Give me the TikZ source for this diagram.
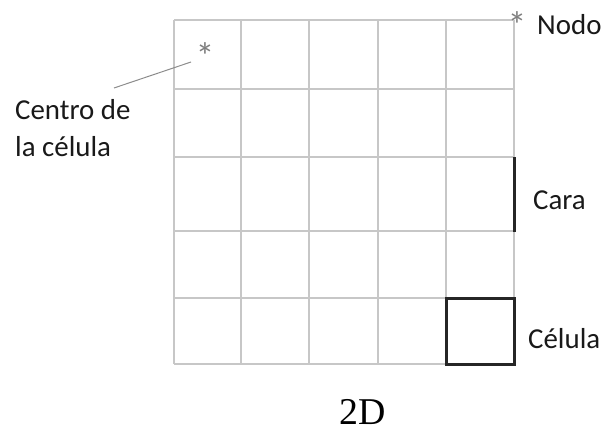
\documentclass[tikz,border=0pt]{standalone}
\usepackage{fontspec}
\setmainfont{Carlito}
\newfontfamily\serifD{Liberation Serif}
\usetikzlibrary{positioning}

\begin{document}
\begin{tikzpicture}[x=1bp, y=-1bp,
    every node/.style={inner sep=0pt, font=\fontsize{29}{38}\selectfont},
    tag/.style={anchor=base west, align=left, text=black!90},
    gridline/.style={draw=black!22, line width=1.4bp},
    boldline/.style={draw=black!85, line width=3bp},
    marker/.style={anchor=north, text=black!50, font=\fontsize{38}{38}\selectfont},
    leader/.style={draw=black!45, line width=1bp}
  ]
    \useasboundingbox (0,0) rectangle (612,434);

    % malla 5x5
    \foreach \x in {174,241,309,378,446,514}
      \draw[gridline] (\x,20) -- (\x,364);
    \foreach \y in {20,89,157,231,298,364}
      \draw[gridline] (174,\y) -- (514,\y);

    % cara y celula
    \draw[boldline] (514,157) -- (514,232);
    \draw[boldline] (446,298) rectangle (514,364);

    % marcadores
    \node[marker] (cstar) at (205,42) {*};
    \node[marker] (nstar) at (517,11) {*};

    % textos
    \node[tag] (centro) at (15,157) {Centro de\\la célula};
    \node[tag] (nodo) at (537,35) {Nodo};
    \node[tag] (cara) at (533,210) {Cara};
    \node[tag] (celula) at (528,348) {Célula};
    \node[anchor=base, font=\serifD\fontsize{38}{38}\selectfont] (dim) at (363,424) {2D};

    \coordinate (lead) at (114,88);
    \coordinate (tip) at (191,62);
    \draw[leader] (lead) -- (tip);
  \end{tikzpicture}
\end{document}
